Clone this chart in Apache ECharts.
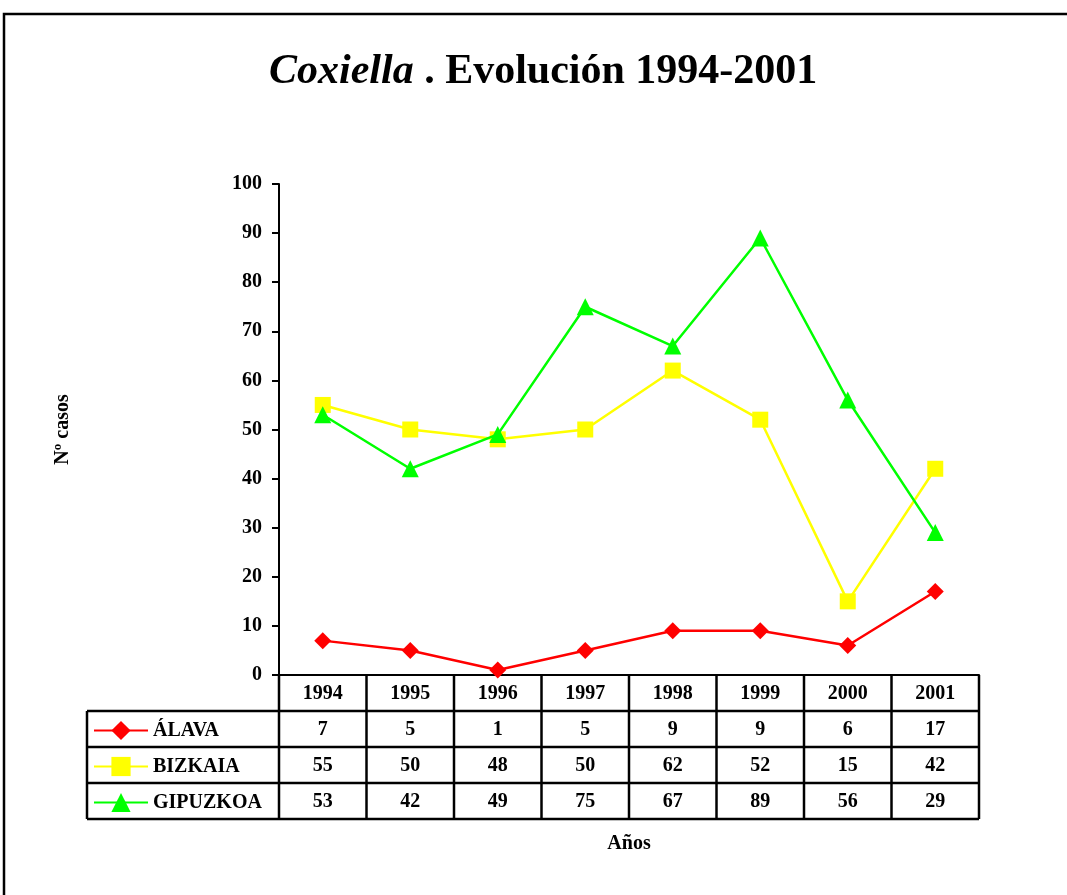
<!DOCTYPE html>
<html>
<head>
<meta charset="utf-8">
<script src="https://cdn.jsdelivr.net/npm/echarts@6/dist/echarts.min.js"></script>
<style>
    html, body {margin:0;padding:0;background:#fff;}
    #chart {width:1067px;height:895px;}
</style>
</head>
<body>
<div id="chart"></div>
<script>
    // datos
    var years = ['1994', '1995', '1996', '1997', '1998', '1999', '2000', '2001'];
    var alava = [7, 5, 1, 5, 9, 9, 6, 17];
    var bizkaia = [55, 50, 48, 50, 62, 52, 15, 42];
    var gipuzkoa = [53, 42, 49, 75, 67, 89, 56, 29];
    var names = ['ÁLAVA', 'BIZKAIA', 'GIPUZKOA'];
    var colors = ['#ff0000', '#ffff00', '#00ff00'];
    var symbols = ['diamond', 'rect', 'triangle'];
    var yMin = 0, yMax = 100, yStep = 10;

    var font = '"Liberation Serif", "Times New Roman", serif';
    var fs = 20;
    var G = {left: 279, top: 184, right: 979, bottom: 675};
    var rowH = 36, tableLeft = 87;
    var values = [alava, bizkaia, gipuzkoa];

    var chart = echarts.init(document.getElementById('chart'));

    function mkSeries(i) {
        return {
            name: names[i],
            type: 'line',
            data: values[i],
            symbol: symbols[i],
            symbolSize: symbols[i] == 'rect' ? 16 : 17,
            lineStyle: {color: colors[i], width: 2.5},
            itemStyle: {color: colors[i]},
            emphasis: {disabled: true},
            z: 3 + i
        };
    }

    function mkLegend(i) {
        return {
            data: [names[i]],
            left: tableLeft + 6,
            top: G.bottom + rowH * (i + 1) + 4,
            itemWidth: 54,
            itemHeight: 24,
            itemGap: 0,
            padding: 0,
            selectedMode: false,
            textStyle: {fontFamily: font, fontWeight: 'bold', fontSize: fs, color: '#000', lineHeight: 24, padding: [7, 0, 0, 0]}
        };
    }

    var option = {
        animation: false,
        title: {
            text: '{i|Coxiella}{b| . Evolución 1994-2001}',
            left: 264,
            top: 46,
            textStyle: {
                rich: {
                    i: {fontFamily: font, fontStyle: 'italic', fontSize: 42, color: '#000'},
                    b: {fontFamily: font, fontWeight: 'bold', fontSize: 42, color: '#000'}
                }
            }
        },
        legend: [mkLegend(0), mkLegend(1), mkLegend(2)],
        grid: {left: G.left, top: G.top, right: 1067 - G.right, bottom: 895 - G.bottom},
        xAxis: {
            type: 'category',
            data: years,
            boundaryGap: true,
            name: 'Años',
            nameLocation: 'middle',
            nameGap: 159,
            nameTextStyle: {fontFamily: font, fontWeight: 'bold', fontSize: fs, color: '#000'},
            axisLine: {lineStyle: {color: '#000', width: 2}},
            axisTick: {show: false},
            axisLabel: {fontFamily: font, fontWeight: 'bold', fontSize: fs, color: '#000', margin: 9}
        },
        yAxis: {
            type: 'value',
            min: yMin,
            max: yMax,
            interval: yStep,
            name: 'Nº casos',
            nameLocation: 'middle',
            nameRotate: 90,
            nameGap: 206,
            nameTextStyle: {fontFamily: font, fontWeight: 'bold', fontSize: fs, color: '#000'},
            axisLine: {show: true, lineStyle: {color: '#000', width: 2}},
            axisTick: {show: true, length: 7, lineStyle: {color: '#000', width: 2}},
            axisLabel: {fontFamily: font, fontWeight: 'bold', fontSize: fs, color: '#000', margin: 17},
            splitLine: {show: false}
        },
        series: [mkSeries(0), mkSeries(1), mkSeries(2)]
    };
    chart.setOption(option);

    // tabla de datos bajo el eje
    function drawTable() {
        var els = [];
        var lineSt = {stroke: '#000', lineWidth: 2.5};
        var bottomY = G.bottom + rowH * 4;
        // marco exterior
        els.push({type: 'rect', shape: {x: 4, y: 14, width: 1100, height: 900}, style: {fill: null, stroke: '#000', lineWidth: 2.5}, silent: true});
        for (var r = 1; r <= 4; r++) {
            var y = G.bottom + rowH * r;
            els.push({type: 'line', shape: {x1: tableLeft, y1: y, x2: G.right, y2: y}, style: lineSt, silent: true});
        }
        els.push({type: 'line', shape: {x1: tableLeft, y1: G.bottom + rowH, x2: tableLeft, y2: bottomY}, style: lineSt, silent: true});
        var w = (G.right - G.left) / years.length;
        for (var k = 0; k <= years.length; k++) {
            var x = G.left + k * w;
            els.push({type: 'line', shape: {x1: x, y1: G.bottom, x2: x, y2: bottomY}, style: lineSt, silent: true});
        }
        values.forEach(function (arr, i) {
            arr.forEach(function (v, j) {
                var cx = chart.convertToPixel({xAxisIndex: 0}, years[j]);
                els.push({
                    type: 'text',
                    x: cx,
                    y: G.bottom + rowH * (i + 1) + rowH / 2 + 1,
                    style: {text: String(v), fontFamily: font, fontWeight: 'bold', fontSize: fs, fill: '#000', align: 'center', verticalAlign: 'middle'},
                    silent: true
                });
            });
        });
        chart.setOption({graphic: els});
    }
    drawTable();

    window.onresize = function () {
        chart.resize();
    };
</script>
</body>
</html>
